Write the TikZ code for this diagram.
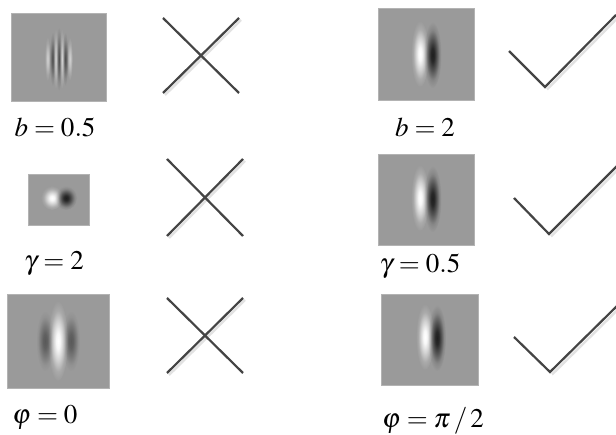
\documentclass[tikz,border=0pt]{standalone}
\usepackage{mathptmx}
\definecolor{bggray}{HTML}{9A9A9A}
\definecolor{inkgray}{HTML}{444444}
\definecolor{shadowgray}{HTML}{E2E2E2}
\definecolor{mdark}{gray}{0.2}
\definecolor{mmid}{gray}{0.58}
\definecolor{sdarkc}{gray}{0.5}
\definecolor{slightc}{gray}{0.55}
% screen-blended highlight: white centre -> black (no effect) at the rim
\pgfdeclareradialshading{wblob}{\pgfpoint{0bp}{0bp}}{color(0bp)=(white); color(5bp)=(white!92!black); color(12bp)=(white!55!black); color(19bp)=(white!15!black); color(25bp)=(black); color(50bp)=(black)}
% multiply-blended shadow: dark centre -> white (no effect) at the rim
\pgfdeclareradialshading{dblob}{\pgfpoint{0bp}{0bp}}{color(0bp)=(mdark); color(5bp)=(mdark!92!white); color(12bp)=(mdark!55!white); color(19bp)=(mdark!15!white); color(25bp)=(white); color(50bp)=(white)}
\pgfdeclareradialshading{mblob}{\pgfpoint{0bp}{0bp}}{color(0bp)=(mmid); color(6bp)=(mmid!88!white); color(14bp)=(mmid!45!white); color(20bp)=(mmid!12!white); color(25bp)=(white); color(50bp)=(white)}
\pgfdeclareradialshading{sdark}{\pgfpoint{0bp}{0bp}}{color(0bp)=(sdarkc); color(8bp)=(sdarkc!70!white); color(18bp)=(sdarkc!20!white); color(25bp)=(white); color(50bp)=(white)}
\pgfdeclareradialshading{slight}{\pgfpoint{0bp}{0bp}}{color(0bp)=(slightc); color(8bp)=(slightc!70!black); color(18bp)=(slightc!20!black); color(25bp)=(black); color(50bp)=(black)}
\tikzset{
  gabor/.style={fill=bggray, draw=bggray!75!white, line width=0.8pt},
  lbl/.style={anchor=base, inner sep=0pt, font=\fontsize{27}{30}\selectfont},
  mark line/.style={draw=inkgray, line width=2.2pt},
  mark shadow/.style={draw=shadowgray, line width=2.4pt},
  wb/.style={shading=wblob, blend mode=screen},
  db/.style={shading=dblob, blend mode=multiply},
  mb/.style={shading=mblob, blend mode=multiply},
  sd/.style={shading=sdark, blend mode=multiply},
  sl/.style={shading=slight, blend mode=screen}
}
\begin{document}
\begin{tikzpicture}[x=1pt,y=-1pt]
\useasboundingbox[fill=white] (0,0) rectangle (616,435);

% ---------- Row 1 ----------
\path[gabor] (11,13) rectangle (106,101);
\begin{scope}
\clip (11,13) rectangle (106,101);
\shade[sl] (47.5,59) ellipse (3 and 22);
\shade[sd] (52.5,59) ellipse (3.2 and 27);
\shade[sl] (55.8,59) ellipse (3 and 30);
\shade[sd] (58.9,59) ellipse (3.2 and 32);
\shade[sl] (62,59) ellipse (3 and 30);
\shade[sd] (65.2,59) ellipse (3.2 and 27);
\shade[sl] (69.8,59) ellipse (3 and 22);
\end{scope}
\node[lbl] (l1) at (55,137) {$b=0.5$};

\coordinate (c1a) at (163,18); \coordinate (c1b) at (239,93);
\coordinate (c1c) at (163,93); \coordinate (c1d) at (239,18);
\draw[mark shadow] ([shift={(2,2)}]c1c) -- ([shift={(2,2)}]c1d);
\draw[mark line] (c1a) -- (c1b);
\draw[mark line] (c1c) -- (c1d);

\path[gabor] (378,8) rectangle (474,100);
\begin{scope}
\clip (378,8) rectangle (474,100);
\shade[wb] (420,54) ellipse (9 and 33);
\shade[db] (432.5,55) ellipse (9 and 33);
\end{scope}
\node[lbl] (l2) at (425,137) {$b=2$};

\coordinate (k1a) at (509,51); \coordinate (k1b) at (545,87); \coordinate (k1c) at (616,15);
\draw[mark shadow] ([shift={(2,2.5)}]k1b) -- ([shift={(2,2.5)}]k1c);
\draw[mark line, line join=miter] (k1a) -- (k1b) -- (k1c);

% ---------- Row 2 ----------
\path[gabor] (28,174) rectangle (89,225);
\begin{scope}
\clip (28,174) rectangle (89,225);
\shade[wb] (52,198) ellipse (11 and 12);
\shade[db] (66,198) ellipse (11 and 12);
\end{scope}
\node[lbl] (l3) at (54,270) {$\gamma=2$};

\coordinate (c2a) at (167,159); \coordinate (c2b) at (243,236);
\coordinate (c2c) at (167,236); \coordinate (c2d) at (243,159);
\draw[mark shadow] ([shift={(2,2)}]c2c) -- ([shift={(2,2)}]c2d);
\draw[mark line] (c2a) -- (c2b);
\draw[mark line] (c2c) -- (c2d);

\path[gabor] (378,154) rectangle (474,245);
\begin{scope}
\clip (378,154) rectangle (474,245);
\shade[wb] (420,198) ellipse (9 and 33);
\shade[db] (432.5,199) ellipse (9 and 33);
\end{scope}
\node[lbl] (l4) at (420,273) {$\gamma=0.5$};

\coordinate (k2a) at (514,198); \coordinate (k2b) at (549,234); \coordinate (k2c) at (618,165);
\draw[mark shadow] ([shift={(2,2.5)}]k2b) -- ([shift={(2,2.5)}]k2c);
\draw[mark line, line join=miter] (k2a) -- (k2b) -- (k2c);

% ---------- Row 3 ----------
\path[gabor] (7,294) rectangle (109,388);
\begin{scope}
\clip (7,294) rectangle (109,388);
\shade[mb] (45,341) ellipse (9 and 30);
\shade[mb] (71,341) ellipse (9 and 30);
\shade[wb] (58,341) ellipse (10 and 40);
\end{scope}
\node[lbl] (l5) at (45,424) {$\varphi=0$};

\coordinate (c3a) at (167,298); \coordinate (c3b) at (243,373);
\coordinate (c3c) at (167,373); \coordinate (c3d) at (243,298);
\draw[mark shadow] ([shift={(2,2)}]c3c) -- ([shift={(2,2)}]c3d);
\draw[mark line] (c3a) -- (c3b);
\draw[mark line] (c3c) -- (c3d);

\path[gabor] (381,294) rectangle (478,385);
\begin{scope}
\clip (381,294) rectangle (478,385);
\shade[wb] (425,337) ellipse (9 and 33);
\shade[db] (437,338) ellipse (9 and 33);
\end{scope}
\node[lbl] (l6) at (433,428) {$\varphi=\pi\,/\,2$};

\coordinate (k3a) at (514,337); \coordinate (k3b) at (550,372); \coordinate (k3c) at (618,305);
\draw[mark shadow] ([shift={(2,2.5)}]k3b) -- ([shift={(2,2.5)}]k3c);
\draw[mark line, line join=miter] (k3a) -- (k3b) -- (k3c);
\end{tikzpicture}
\end{document}
